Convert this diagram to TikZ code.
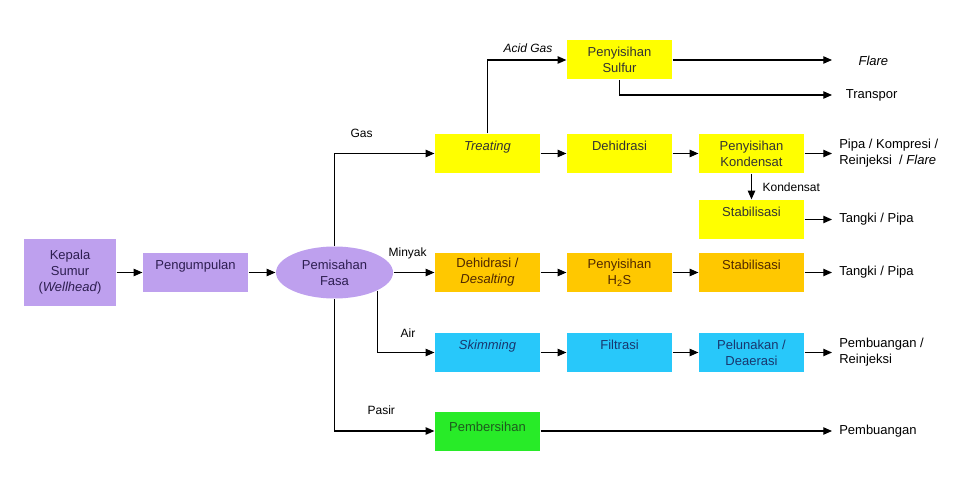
\documentclass[tikz,border=0pt]{standalone}
\usepackage{fontspec}
\setmainfont{Liberation Sans}
\usetikzlibrary{arrows.meta,shapes.geometric}

\definecolor{ungu}{RGB}{190,160,238}
\definecolor{kuning}{RGB}{255,255,0}
\definecolor{jingga}{RGB}{255,200,0}
\definecolor{biru}{RGB}{40,200,250}
\definecolor{hijau}{RGB}{40,235,40}

\begin{document}
\begin{tikzpicture}[x=0.75pt,y=-0.75pt,->,>={Triangle[length=6.5pt,width=5.5pt]},line width=0.9pt,
    font=\fontsize{9.75}{12}\selectfont,
    proc/.style={rectangle,minimum width=78.75pt,minimum height=29.25pt,align=center,inner sep=1pt},
    oneline/.style={text depth=12pt},
    gas node/.style={proc,fill=kuning,text=black!80},
    oil node/.style={proc,fill=jingga,text={rgb,255:red,80;green,40;blue,0}},
    water node/.style={proc,fill=biru,text={rgb,255:red,25;green,55;blue,110}},
    out node/.style={anchor=west,inner xsep=5pt,align=left},
    lbl/.style={font=\fontsize{9}{11}\selectfont,anchor=west,inner sep=0pt}]

  \useasboundingbox (0,0) rectangle (970,484);

  % inlet
  \node[proc,fill=ungu,text={rgb,255:red,45;green,30;blue,80},minimum width=69pt,minimum height=50pt] (sumur) at (70,272.5) {Kepala\\Sumur\\(\textit{Wellhead})};
  \node[proc,fill=ungu,text={rgb,255:red,45;green,30;blue,80},oneline] (kumpul) at (195.5,272.5) {Pengumpulan};
  \node[ellipse,fill=ungu,text={rgb,255:red,45;green,30;blue,80},minimum width=87.75pt,minimum height=39pt,inner sep=0pt,align=center] (pisah) at (334.5,272.5) {Pemisahan\\Fasa};

  % gas
  \node[gas node] (sulfur) at (619.5,60) {Penyisihan\\Sulfur};
  \node[gas node,oneline] (treat) at (487.5,153.5) {\textit{Treating}};
  \node[gas node,oneline] (dehid) at (619.5,153.5) {Dehidrasi};
  \node[gas node] (konden) at (751.5,153.5) {Penyisihan\\Kondensat};
  \node[gas node,oneline] (stab1) at (751.5,219.5) {Stabilisasi};

  % minyak
  \node[oil node] (desalt) at (487.5,272.5) {Dehidrasi /\\\textit{Desalting}};
  \node[oil node] (hs) at (619.5,272.5) {Penyisihan\\H\textsubscript{2}S};
  \node[oil node,oneline] (stab2) at (751.5,272.5) {Stabilisasi};

  % air
  \node[water node,oneline] (skim) at (487.5,352.5) {\textit{Skimming}};
  \node[water node,oneline] (filter) at (619.5,352.5) {Filtrasi};
  \node[water node] (lunak) at (751.5,352.5) {Pelunakan /\\Deaerasi};

  % pasir
  \node[proc,fill=hijau,text={rgb,255:red,30;green,90;blue,30},text depth=6pt] (bersih) at (487.5,431) {Pembersihan};

  % keluaran
  \coordinate (flareend) at (832,60);
  \node[anchor=west,inner sep=0pt] (flare) at (858,61) {\textit{Flare}};
  \node[out node,inner xsep=10pt] (transpor) at (832,95) {Transpor};
  \node[out node] (pipa) at (832,153.5) {Pipa / Kompresi /\\Reinjeksi~ / \textit{Flare}};
  \node[out node] (tangki1) at (832,219.5) {Tangki / Pipa};
  \node[out node] (tangki2) at (832,272.5) {Tangki / Pipa};
  \node[out node] (buang1) at (832,352.5) {Pembuangan /\\Reinjeksi};
  \node[out node] (buang2) at (832,431) {Pembuangan};

  % label aliran
  \node[lbl] (lgas) at (350,133) {Gas};
  \node[lbl] (lminyak) at (388,253) {Minyak};
  \node[lbl] (lair) at (400,333) {Air};
  \node[lbl] (lpasir) at (367,410) {Pasir};
  \node[lbl] (lacid) at (503,48) {\textit{Acid Gas}};
  \node[lbl] (lkond) at (762,187) {Kondensat};

  \path (sumur) edge (kumpul)
        (kumpul) edge (pisah)
        (pisah) edge (desalt)
        (treat) edge (dehid)
        (dehid) edge (konden)
        (konden) edge (pipa)
        (konden) edge (stab1)
        (stab1) edge (tangki1)
        (desalt) edge (hs)
        (hs) edge (stab2)
        (stab2) edge (tangki2)
        (skim) edge (filter)
        (filter) edge (lunak)
        (lunak) edge (buang1)
        (bersih) edge (buang2)
        (sulfur) edge (flareend);

  \draw (pisah.north) |- (treat.west);
  \draw (pisah.-23) |- (skim.west);
  \draw (pisah.south) |- (bersih.west);
  \draw (treat.north) |- (sulfur.west);
  \draw (sulfur.south) |- (transpor.west);

\end{tikzpicture}
\end{document}
